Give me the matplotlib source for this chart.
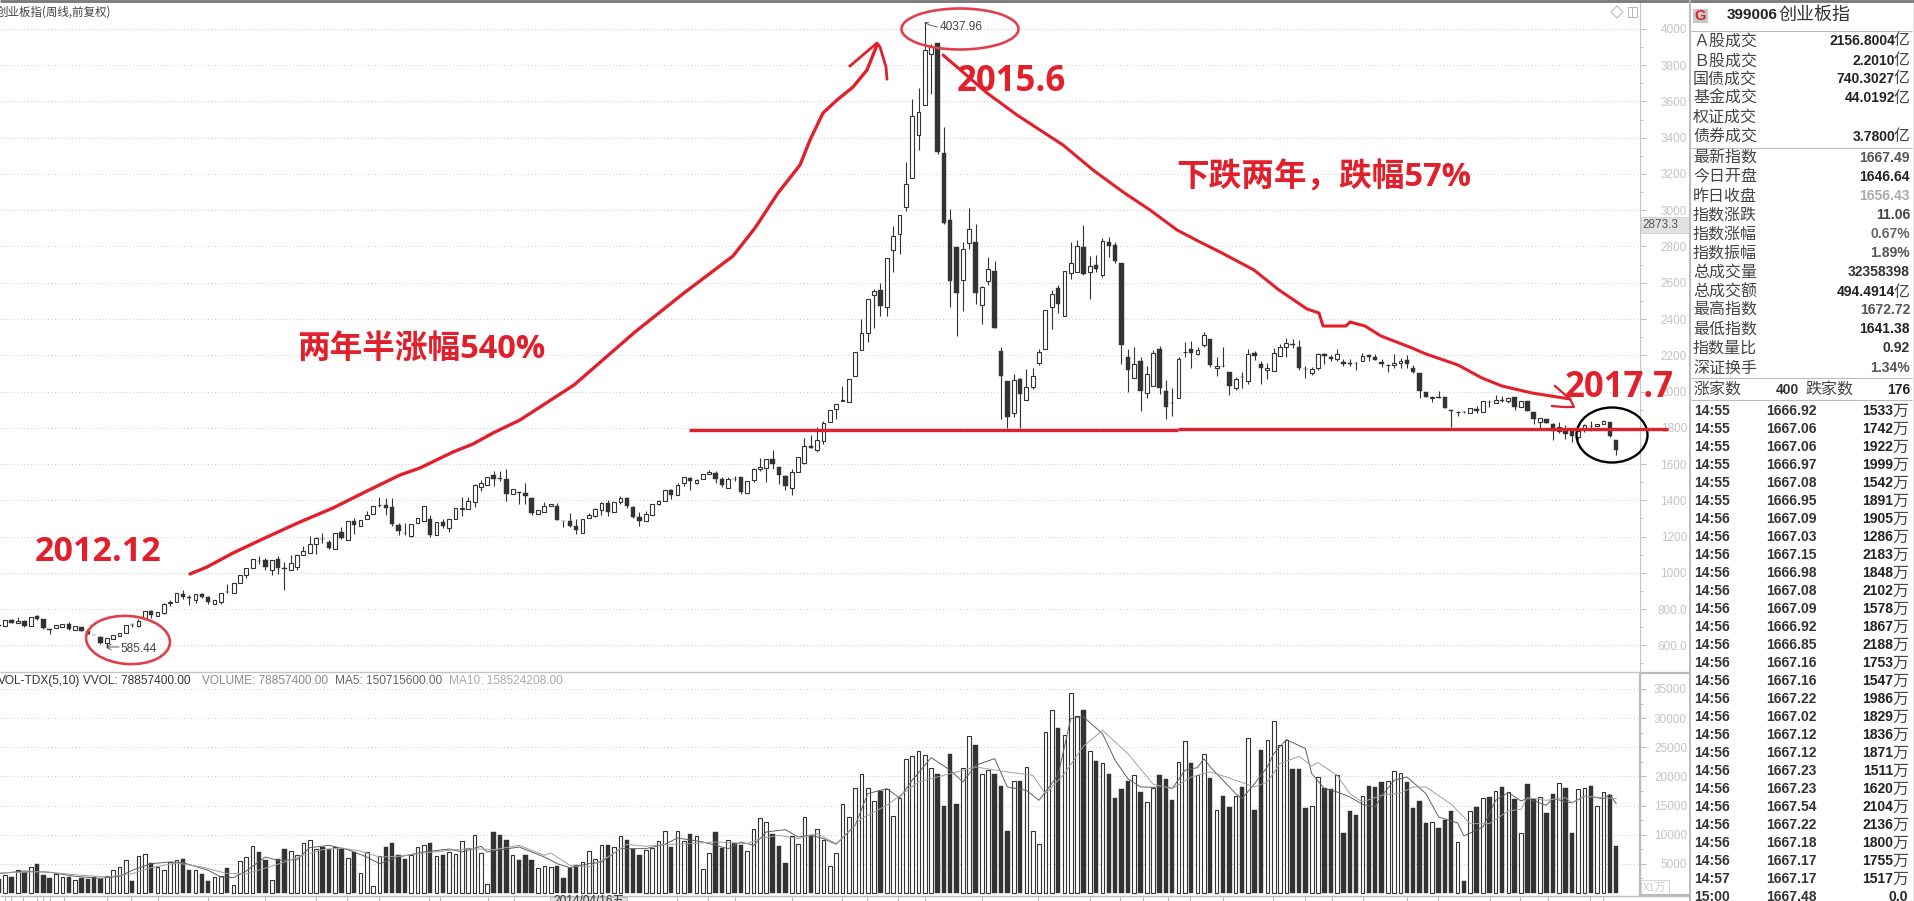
import numpy as np
import matplotlib
matplotlib.use('Agg')
import matplotlib.pyplot as plt
from matplotlib.patches import Ellipse, Rectangle, Polygon

# weekly candles, first one is cut by the left edge
opens = [714,709,742,722,733,705,760,744,688,694,
703,716,683,699,679,657,648,612,637,652,
666,713,705,751,788,764,779,835,837,882,
865,852,882,865,826,841,894,887,942,988,
1025,1067,1071,1018,1075,1024,1014,1034,1097,1112,
1158,1186,1172,1130,1224,1180,1285,1257,1296,1327,
1374,1373,1362,1263,1219,1204,1277,1288,1297,1211,
1281,1250,1296,1354,1351,1393,1476,1487,1539,1521,
1516,1434,1444,1439,1412,1325,1334,1366,1367,1287,
1285,1261,1222,1301,1314,1349,1384,1334,1388,1415,
1362,1307,1288,1321,1378,1395,1459,1428,1494,1522,
1498,1516,1544,1548,1516,1470,1519,1527,1443,1513,
1570,1577,1627,1583,1533,1469,1555,1607,1697,1680,
1726,1834,1902,1949,1941,2088,2228,2322,2532,2561,
2466,2780,2868,3018,3178,3415,3580,3862,3923,3316,
2948,2799,2615,2817,2824,2477,2607,2666,2224,2057,
1884,2070,1954,2024,2155,2234,2466,2570,2416,2653,
2659,2799,2659,2697,2640,2824,2808,2708,2189,2074,
2167,1991,2029,2234,2002,1937,1963,2216,2234,2206,
2256,2289,2129,2142,2110,2018,2080,2059,2215,2154,
2121,2114,2197,2246,2260,2248,2124,2101,2130,2209,
2193,2178,2165,2158,2157,2171,2202,2189,2165,2146,
2147,2156,2176,2132,2101,2000,1966,1969,1968,1896,
1886,1888,1884,1906,1886,1942,1934,1956,1946,1968,
1917,1946,1887,1832,1849,1821,1781,1788,1781,1751,
1792,1811,1810,1823,1834,1735]

highs = [716,742,744,755,740,758,766,747,688,712,
720,727,705,699,679,659,653,639,655,666,
711,725,744,788,793,784,832,849,887,906,
878,882,887,874,849,891,939,942,987,1029,
1075,1091,1080,1069,1093,1062,1101,1104,1150,1202,
1200,1217,1182,1218,1255,1285,1301,1290,1343,1366,
1417,1413,1412,1274,1277,1268,1301,1367,1320,1281,
1296,1296,1356,1417,1417,1489,1513,1531,1561,1561,
1572,1463,1448,1494,1421,1345,1389,1377,1384,1288,
1329,1297,1296,1329,1356,1389,1402,1391,1423,1421,
1369,1334,1340,1377,1402,1459,1463,1494,1531,1531,
1516,1544,1568,1559,1531,1531,1535,1531,1505,1577,
1631,1627,1678,1586,1537,1575,1638,1741,1761,1803,
1838,1899,1930,2028,2068,2219,2399,2510,2565,2598,
2738,2911,2973,3266,3614,3674,4038,3917,3923,3461,
3006,2799,2824,3012,2925,2583,2741,2721,2247,2057,
2098,2076,2125,2132,2234,2449,2559,2589,2664,2824,
2837,2918,2749,2754,2848,2852,2824,2708,2234,2245,
2189,2140,2230,2252,2063,2018,2189,2274,2278,2245,
2329,2289,2189,2243,2110,2082,2106,2237,2222,2169,
2160,2241,2263,2296,2287,2285,2141,2138,2215,2215,
2200,2233,2178,2178,2163,2215,2209,2209,2182,2154,
2209,2187,2204,2147,2101,2000,1976,2002,1968,1899,
1895,1893,1911,1921,1945,1954,1980,1976,1972,1972,
1948,1946,1887,1856,1849,1829,1832,1818,1792,1792,
1819,1838,1823,1843,1834,1735]

lows = [705,709,723,722,699,705,740,692,665,694,
703,687,683,677,661,655,606,585,637,652,
666,699,701,751,753,764,773,819,837,858,
825,836,860,830,826,828,889,887,942,974,
1025,1051,1016,990,992,906,1014,1016,1097,1112,
1102,1163,1134,1130,1185,1180,1215,1257,1296,1327,
1362,1321,1261,1206,1211,1196,1277,1288,1200,1211,
1246,1226,1296,1314,1351,1364,1454,1487,1480,1507,
1397,1434,1382,1382,1320,1325,1334,1366,1292,1255,
1255,1215,1217,1301,1307,1321,1314,1334,1377,1356,
1305,1259,1288,1321,1375,1395,1406,1428,1481,1458,
1489,1516,1544,1493,1474,1470,1509,1436,1443,1502,
1564,1502,1573,1491,1456,1432,1555,1599,1688,1664,
1710,1834,1847,1947,1941,2088,2228,2272,2353,2414,
2414,2657,2758,2994,3178,3330,3580,3639,3308,2922,
2466,2309,2442,2784,2484,2375,2587,2348,1847,1799,
1862,1799,1954,2013,2144,2234,2344,2432,2416,2620,
2659,2642,2513,2659,2629,2740,2708,2151,1996,2074,
1895,1963,2029,1985,1847,1867,1963,2189,2132,2200,
2245,2138,2088,2134,1981,2009,2018,2042,2173,2040,
2068,2114,2197,2191,2239,2119,2077,2092,2119,2154,
2167,2171,2141,2141,2119,2171,2167,2175,2138,2108,
2132,2132,2130,2101,1965,1970,1943,1965,1908,1803,
1865,1882,1884,1884,1886,1917,1934,1943,1939,1899,
1917,1893,1819,1801,1827,1733,1773,1737,1722,1737,
1777,1783,1810,1823,1750,1648]

closes = [707,742,725,734,707,758,747,696,685,712,
720,690,705,677,661,655,611,639,655,666,
711,711,733,788,769,784,826,837,887,867,
862,882,869,839,849,891,892,942,987,1025,
1075,1065,1034,1069,1029,1022,1056,1097,1119,1158,
1193,1184,1139,1218,1191,1285,1263,1290,1321,1366,
1376,1356,1270,1229,1217,1268,1301,1367,1209,1281,
1259,1296,1356,1356,1395,1483,1494,1531,1520,1519,
1437,1463,1442,1426,1331,1345,1367,1377,1294,1285,
1261,1235,1296,1318,1351,1384,1338,1391,1412,1366,
1310,1288,1327,1377,1395,1459,1432,1487,1528,1504,
1511,1544,1557,1516,1483,1516,1517,1447,1505,1572,
1583,1627,1603,1542,1478,1555,1638,1697,1688,1732,
1826,1899,1930,1951,2068,2219,2322,2510,2556,2469,
2738,2857,2973,3144,3520,3542,3884,3908,3319,2927,
2607,2541,2786,2898,2546,2576,2675,2348,2088,1862,
2064,1989,2024,2083,2219,2449,2537,2482,2664,2708,
2802,2651,2692,2675,2830,2802,2718,2256,2118,2151,
2002,2096,2212,2018,1913,1935,2178,2218,2210,2228,
2311,2145,2140,2140,2031,2071,2078,2209,2197,2130,
2132,2215,2244,2270,2258,2130,2122,2125,2209,2198,
2178,2208,2152,2152,2155,2198,2191,2175,2151,2148,
2160,2171,2152,2106,2003,1970,1968,1967,1908,1894,
1888,1886,1911,1891,1945,1940,1954,1948,1965,1913,
1948,1893,1847,1856,1827,1784,1806,1766,1755,1781,
1814,1809,1823,1840,1755,1676]

# volume in units of 1万
volumes = [2460,3146,2746,4004,3661,4519,4919,3032,2631,3318,
2803,2746,2174,2517,2460,2746,2402,2917,4004,4519,
5720,2002,6406,6750,5205,4519,4004,5377,5720,5892,
3890,3890,3318,2002,2803,2860,4347,1430,5548,6235,
8122,7093,5606,2288,5892,7493,7264,6578,8637,9152,
7608,7951,7608,7894,7608,6063,7093,3489,7093,1258,
6406,7951,8523,6578,5777,6578,7951,8294,8637,6406,
6464,7093,6750,8980,7779,10010,6921,1602,10525,9896,
9038,6578,5606,6464,5606,4347,4690,4519,4690,2517,
4347,4862,5377,7264,5892,8294,8180,7951,9838,9152,
7493,6464,7436,7779,8980,10696,7836,10696,8980,10067,
9838,4176,6921,10410,7722,9152,8580,8180,7264,11040,
12927,12241,10067,8008,5091,9838,8351,13099,9896,11040,
9152,4690,6921,15330,13099,18075,20478,18075,15844,17446,
17904,13270,16359,23052,23566,24424,23738,21507,20478,14872,
23795,15215,21507,26998,25340,20478,21050,20478,18304,10582,
19276,19276,21679,10696,8466,27685,31460,28257,27170,34377,
30430,31460,24424,22594,22365,20363,16245,17789,19276,20306,
17274,15673,18075,20306,19505,15902,22537,26140,22365,20306,
23910,19677,14300,16588,14700,16702,18132,26655,14186,24482,
26312,29572,25454,26312,21221,21221,14529,14872,19963,17961,
17789,20306,10239,14128,13328,16702,18418,18132,18990,19276,
20992,20649,18990,14529,15730,11955,12241,11097,12527,14014,
8809,2002,14128,14700,16359,16416,17560,18247,17389,16073,
10353,18647,16188,16531,13671,16931,18933,17961,10239,17904,
18075,18418,14986,17389,16760,8008]

# the two volume averages at their turning points
ma5_idx = [-1,3,7,11,15,18,20,23,26,28,32,34,36,38,41,43,46,48,51,54,57,59,62,66,70,72,75,76,81,85,87,89,92,94,97,101,
104,106,110,114,116,118,120,123,125,127,129,131,134,136,139,141,143,146,149,151,153,156,158,161,163,166,168,170,173,175,177,179,
181,183,184,186,188,189,190,194,195,197,199,200,202,205,206,208,210,212,214,216,217,219,221,224,226,229,230,233,235,237,239,240,243,244,247,249,252,253,254]
ma5_vals = [3318,3775,3546,2860,2517,2860,3890,5034,5320,5205,3890,2746,2631,3775,6178,5606,5720,7779,8180,7436,6178,5034,6178,7036,7550,7036,8008,7036,7894,6178,5034,4347,5034,5320,7608,7608,
8351,9438,8752,7608,8752,8180,10468,10868,9610,9896,9324,8351,11612,17046,17904,16302,19334,23223,21050,19048,21908,23052,18190,17618,15902,20192,29916,30202,27342,22766,19620,18190,
18132,18304,17904,21050,21507,23052,21622,17046,16188,18762,21622,23910,26312,24768,20478,17904,17332,16474,15215,14758,16588,19334,19906,17046,13042,12012,9781,11326,15902,17217,15787,16188,15044,16188,15444,16588,16188,16931,15330]
ma10_idx = [-1,6,12,16,20,23,27,31,35,38,42,44,47,50,53,56,59,62,66,70,73,77,81,85,86,89,92,95,98,101,
104,108,112,117,119,122,125,128,131,135,139,144,149,153,158,162,164,167,170,173,177,
181,184,187,190,193,197,199,201,204,206,207,210,212,214,217,220,222,224,228,231,234,237,239,240,243,246,247,249,254]
ma10_vals = [3432,3661,3032,2746,3318,4347,5148,4462,3318,3318,4576,5320,6464,7436,7722,7207,6178,6292,6864,7322,7608,7436,8180,6464,6864,4748,4462,6178,8351,8008,
8294,8466,8752,8466,9324,9896,9324,10182,8466,12756,15044,19048,20478,21622,20764,20192,17046,20478,25168,27914,23910,
18647,17904,19906,20764,19734,18190,19048,22194,23452,21793,22365,20192,17046,15616,16760,17160,18190,18190,15215,11898,11898,14071,14357,16359,15902,16359,15502,16588,16188]

price_ticks = [600,800,1000,1200,1400,1600,1800,2000,2200,2400,2600,2800,3000,3200,3400,3600,3800,4000]
price_labels = ['600.0','800.0','1000','1200','1400','1600','1800','2000','2200','2400','2600','2800','3000','3200','3400','3600','3800','4000']
vol_ticks = [5000,10000,15000,20000,25000,30000,35000]

quote_labels = ['Ａ股成交','Ｂ股成交','国债成交','基金成交','权证成交','债券成交']
quote_values = ['2156.8004','2.2010','740.3027','44.0192','','3.7800']
index_labels = ['最新指数','今日开盘','昨日收盘','指数涨跌','指数涨幅','指数振幅','总成交量','总成交额','最高指数','最低指数','指数量比','深证换手']
index_values = ['1667.49','1646.64','1656.43','11.06','0.67%','1.89%','32358398','494.4914','1672.72','1641.38','0.92','1.34%']
index_colors = ['#555555','#222222','#aaaaaa','#444444','#666666','#555555','#333333','#222222','#555555','#222222','#333333','#555555']
tick_times = ['14:55']*6 + ['14:56']*20 + ['14:57','15:00']
tick_prices = ['1666.92','1667.06','1667.06','1666.97','1667.08','1666.95','1667.09','1667.03','1667.15','1666.98',
'1667.08','1667.09','1666.92','1666.85','1667.16','1667.16','1667.22','1667.02','1667.12','1667.12',
'1667.23','1667.23','1667.54','1667.22','1667.18','1667.17','1667.17','1667.48']
tick_vols = ['1533','1742','1922','1999','1542','1891','1905','1286','2183','1848',
'2102','1578','1867','2188','1753','1547','1986','1829','1836','1871',
'1511','1620','2104','2136','1800','1755','1517','0.0']

RED = '#e2202c'
DARK = '#333333'
GREY = '#c4c4c4'
W, H = 1915, 901
SANS = ['Liberation Sans', 'Noto Sans CJK SC']
CJK = ['Noto Sans CJK SC', 'DejaVu Sans']
BOLD = ['Open Sans', 'Noto Sans CJK SC']

plt.rcParams['font.family'] = SANS
fig = plt.figure(figsize=(W / 100, H / 100), dpi=100, facecolor='white')


def pane(top, bottom):
    return fig.add_axes([0, 1 - bottom / H, 1640 / W, (bottom - top) / H])


def right_axis(ax, major, minor, labels):
    ax.yaxis.tick_right()
    ax.set_yticks(major)
    ax.set_yticklabels(labels)
    ax.set_yticks(minor, minor=True)
    ax.tick_params(axis='y', which='major', length=4.3, width=0.7, color='#bbbbbb',
                   labelcolor=GREY, labelsize=8.5, pad=29.5)
    ax.tick_params(axis='y', which='minor', length=2.2, width=0.7, color='#bbbbbb')
    for lab in ax.get_yticklabels():
        lab.set_ha('right')
    ax.set_xticks([])
    ax.grid(axis='y', which='major', ls=(0, (1, 2.5)), color='#c8c8c8', lw=0.7)
    ax.set_axisbelow(True)
    for s in ['top', 'left', 'bottom']:
        ax.spines[s].set_visible(False)
    ax.spines['right'].set_color('#c4c4c4')
    ax.set_xlim(-0.836, 257.76)


o = np.array(opens)
h = np.array(highs)
l = np.array(lows)
c = np.array(closes)
v = np.array(volumes)
x = np.arange(-1, len(o) - 1)
up = c >= o

# candles
ax = pane(3, 672)
ax.vlines(x, l, h, color=DARK, lw=0.8, zorder=2)
ax.bar(x[up], (c - o)[up], bottom=o[up], width=0.6, facecolor='white', edgecolor=DARK, lw=0.8, zorder=3)
ax.bar(x[~up], (o - c)[~up], bottom=c[~up], width=0.7, facecolor=DARK, edgecolor=DARK, lw=0.3, zorder=3)
ax.set_ylim(453, 4143)
right_axis(ax, price_ticks, np.arange(500, 4100, 100), price_labels)

# volume
ax2 = pane(672, 896)
ax2.bar(x[up], v[up], width=0.58, facecolor='white', edgecolor=DARK, lw=0.8, zorder=3)
ax2.bar(x[~up], v[~up], width=0.7, facecolor=DARK, edgecolor=DARK, lw=0.3, zorder=3)
ax2.plot(ma5_idx, ma5_vals, color='#606060', lw=0.7, zorder=4)
ax2.plot(ma10_idx, ma10_vals, color='#a0a0a0', lw=0.7, zorder=4)
ax2.set_ylim(-515, 37907)
right_axis(ax2, vol_ticks, np.arange(2500, 37500, 2500), [str(t) for t in vol_ticks])

# everything else is placed in picture pixels on a sheet over the panes
top = fig.add_axes([0, 0, 1, 1], zorder=10)
top.set_xlim(0, W)
top.set_ylim(H, 0)
top.axis('off')
top.patch.set_alpha(0)


def txt(px, py, s, size=9, color='#222222', ha='left', family=SANS, weight='normal'):
    top.text(px, py, s, fontsize=size, color=color, ha=ha, va='center', family=family, weight=weight)


def hline(y, x0, x1, color='#bbbbbb', lw=0.8):
    top.plot([x0, x1], [y, y], color=color, lw=lw, solid_capstyle='butt')


def vline(px, y0, y1, color='#bbbbbb', lw=0.8):
    top.plot([px, px], [y0, y1], color=color, lw=lw, solid_capstyle='butt')


# frame
hline(1, 0, W, '#777777', 2)
hline(672, 0, 1640, '#c4c4c4', 1)
hline(896, 0, 1690, '#bbbbbb', 1)
hline(673, 1640, 1690, '#bbbbbb', 1.6)
hline(895, 1640, 1690, '#bbbbbb', 1.6)
vline(1640, 672, 896, '#bbbbbb', 1.6)
vline(1690, 0, H, '#bbbbbb', 1.4)
vline(1914, 0, H, '#777777', 1)

# top corner icons
top.add_patch(Polygon([[1611, 12], [1617, 6], [1623, 12], [1617, 18]], fc='none', ec='#bbbbbb', lw=0.8))
top.add_patch(Rectangle((1628, 7), 9, 10, fc='none', ec='#bbbbbb', lw=0.8))
vline(1632.5, 7, 17, '#bbbbbb', 0.8)

# pane titles
txt(-3, 12, '创业板指(周线,前复权)', 8.3, '#444444', family=CJK)
txt(-2, 681, 'VOL-TDX(5,10)', 8.6, '#333333')
txt(83, 681, 'VVOL: 78857400.00', 8.6, '#333333')
txt(202, 681, 'VOLUME: 78857400.00', 8.6, '#888888')
txt(335, 681, 'MA5: 150715600.00', 8.6, '#666666')
txt(449, 681, 'MA10: 158524208.00', 8.6, '#aaaaaa')

# price flag and extremes
txt(940, 27, '4037.96', 8.6, '#444444')
top.plot([925, 930, 937], [23, 25, 27], color='#444444', lw=0.6)
top.plot([925, 928], [22, 22], color='#444444', lw=0.6)
txt(121, 649, '585.44', 8.6, '#444444')
top.plot([119, 107, 111], [647, 647, 644], color='#444444', lw=0.6)
top.plot([107, 111], [647, 650], color='#444444', lw=0.6)

# box on the axis, multiplier, date label and month ticks
top.add_patch(Rectangle((1641, 217), 49, 16, fc='#e2e2e2', ec='#cccccc', lw=0.5))
txt(1642, 225, '2873.3', 8.5, '#555555')
top.add_patch(Rectangle((1641, 880), 28, 15, fc='white', ec='#cccccc', lw=0.6))
txt(1643, 888, 'X1万', 8, '#cccccc', family=CJK)
for tx in [5, 11, 23, 37, 43, 50, 64, 107, 131, 158, 208, 265, 316, 347, 379, 429, 440, 488, 514,
           677, 708, 735, 792, 842, 867, 898, 925, 982, 1038, 1090, 1120, 1143,
           1168, 1190, 1223, 1273, 1305, 1332, 1363, 1407, 1438, 1490, 1520, 1548, 1590, 1603]:
    vline(tx, 896, H)
top.add_patch(Rectangle((550, 896.5), 77, 6, fc='#e2e2e2', ec='#bbbbbb', lw=0.6))
txt(553, 901.5, '2014/04/16五', 8.6, '#333333')

# hand drawn marks
rise_x = [190, 207, 233, 267, 300, 333, 367, 400, 420, 453, 473, 493, 520, 574, 635, 684, 733, 755, 778, 800, 810, 823, 837, 853, 867, 877]
rise_y = [574, 567, 553, 537, 522, 508, 491, 475, 468, 452, 444, 433, 420, 385, 332, 293, 256, 228, 193, 165, 140, 113, 100, 87, 70, 45]
top.plot(rise_x, rise_y, color=RED, lw=2.4, solid_joinstyle='round', solid_capstyle='round')
top.plot([850, 877, 880, 886, 887], [66, 43, 47, 67, 79], color=RED, lw=2, solid_joinstyle='round')

fall_x = [943, 957, 987, 1017, 1043, 1063, 1093, 1123, 1150, 1177, 1200, 1220, 1254, 1279, 1307, 1319, 1323, 1346, 1350, 1365, 1381, 1412, 1426, 1458, 1482, 1502, 1532, 1570]
fall_y = [55, 67, 93, 115, 132, 145, 170, 192, 210, 230, 242, 252, 270, 290, 309, 313, 326, 326, 322, 326, 336, 348, 354, 365, 378, 386, 393, 399]
top.plot(fall_x, fall_y, color=RED, lw=2.2, solid_joinstyle='round', solid_capstyle='round')
top.plot([1555, 1570, 1574, 1563, 1552], [386, 399, 407, 407, 406], color=RED, lw=1.6, solid_joinstyle='round')

hline(430, 689, 1178, RED, 2.4)
hline(429, 1178, 1668, RED, 2.4)

top.add_patch(Ellipse((128, 640), 84, 48, angle=4, fc='none', ec='#e0404a', lw=1.9))
top.add_patch(Ellipse((960, 29), 117, 41, fc='none', ec='#e0404a', lw=1.9))
top.add_patch(Ellipse((1612, 435), 71, 55, fc='none', ec='black', lw=1.7))

txt(35, 552, '2012.12', 24.5, RED, family=BOLD, weight='bold')
txt(957, 82, '2015.6', 25, RED, family=BOLD, weight='bold')
txt(1565, 388, '2017.7', 25, RED, family=BOLD, weight='bold')
txt(1176, 178, '下跌两年，跌幅57%', 23.5, RED, family=BOLD, weight='bold')
txt(297, 349, '两年半涨幅540%', 23.5, RED, family=BOLD, weight='bold')

# quote panel
top.add_patch(Rectangle((1693, 9), 15, 14, fc='#c8c8c8', ec='none'))
txt(1700.5, 16, 'G', 10.5, '#d8202a', ha='center', weight='bold')
txt(1727, 15, '399006', 11, '#222222', weight='bold')
txt(1779, 15, '创业板指', 13, '#333333', family=CJK)
hline(30.7, 1691, 1912)
hline(147.7, 1691, 1912)
hline(378, 1691, 1912)
hline(400, 1691, 1912)

quote_rows = [41, 61, 79, 98, 117, 137]
for row, lab, val in zip(quote_rows, quote_labels, quote_values):
    txt(1693, row, lab, 11.5, '#444444', family=CJK)
    if val:
        txt(1895, row, val, 10, '#222222', ha='right', weight='bold')
        txt(1910, row, '亿', 11.5, '#444444', ha='right', family=CJK)

index_rows = [158, 177, 196, 215, 234, 253, 272, 292, 310, 329, 348, 368]
for row, lab, val, col in zip(index_rows, index_labels, index_values, index_colors):
    txt(1693, row, lab, 11.5, '#444444', family=CJK)
    if lab == '总成交额':
        txt(1895, row, val, 10, col, ha='right', weight='bold')
        txt(1910, row, '亿', 11.5, '#444444', ha='right', family=CJK)
    else:
        txt(1910, row, val, 10, col, ha='right', weight='bold')

txt(1693, 390, '涨家数', 11.5, '#444444', family=CJK)
txt(1776, 390, '400', 10, '#333333', weight='bold')
txt(1805, 390, '跌家数', 11.5, '#444444', family=CJK)
txt(1910, 390, '176', 10, '#222222', ha='right', weight='bold')

for n, (tm, pr, vo) in enumerate(zip(tick_times, tick_prices, tick_vols)):
    row = 411 + 18 * n
    txt(1694, row, tm, 10, '#333333', weight='bold')
    txt(1766, row, pr, 10, '#333333', weight='bold')
    if vo == '0.0':
        txt(1908, row, vo, 10, '#222222', ha='right', weight='bold')
    else:
        txt(1893, row, vo, 10, '#222222', ha='right', weight='bold')
        txt(1908, row, '万', 11.5, '#444444', ha='right', family=CJK)

fig.savefig('out.png', dpi=100)
